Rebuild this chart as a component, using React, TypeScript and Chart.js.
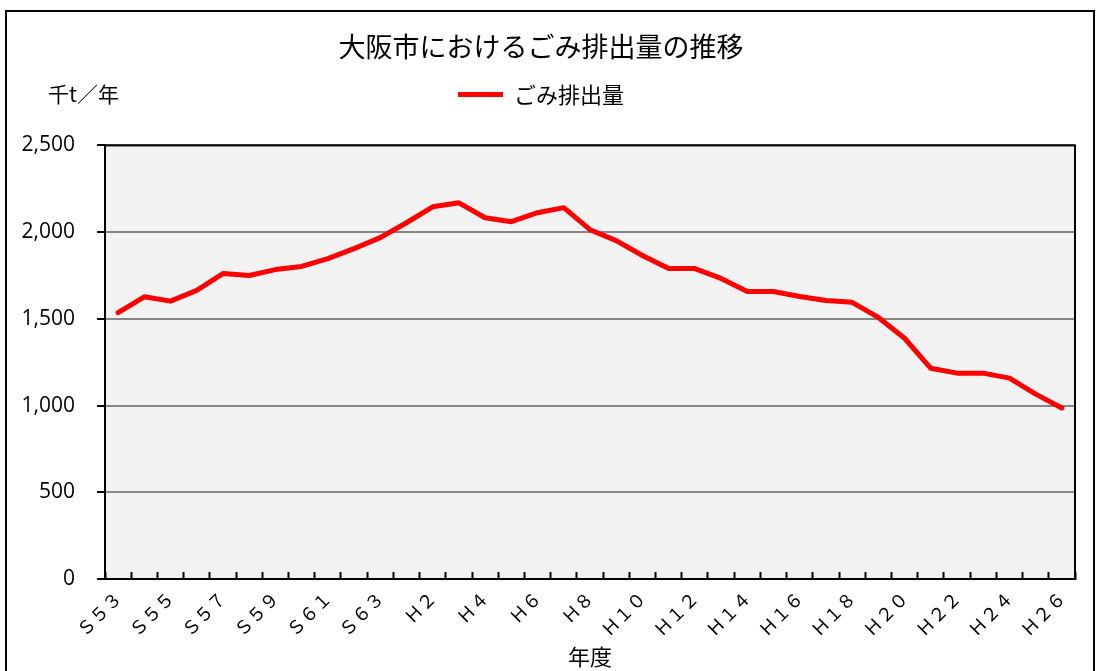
import React, { useEffect, useRef } from 'react';
import { Chart, registerables } from 'chart.js';

Chart.register(...registerables);

const years = [
  'Ｓ５３', 'Ｓ５４', 'Ｓ５５', 'Ｓ５６', 'Ｓ５７', 'Ｓ５８', 'Ｓ５９', 'Ｓ６０', 'Ｓ６１', 'Ｓ６２', 'Ｓ６３',
  'Ｈ１', 'Ｈ２', 'Ｈ３', 'Ｈ４', 'Ｈ５', 'Ｈ６', 'Ｈ７', 'Ｈ８', 'Ｈ９', 'Ｈ１０',
  'Ｈ１１', 'Ｈ１２', 'Ｈ１３', 'Ｈ１４', 'Ｈ１５', 'Ｈ１６', 'Ｈ１７', 'Ｈ１８', 'Ｈ１９', 'Ｈ２０',
  'Ｈ２１', 'Ｈ２２', 'Ｈ２３', 'Ｈ２４', 'Ｈ２５', 'Ｈ２６',
];

const wasteAmounts = [
  1536, 1627, 1602, 1664, 1761, 1750, 1784, 1802, 1847, 1905, 1968,
  2054, 2146, 2169, 2083, 2060, 2112, 2141, 2014, 1951, 1865,
  1790, 1790, 1733, 1658, 1658, 1629, 1606, 1595, 1508, 1388,
  1215, 1187, 1187, 1158, 1066, 986,
];

const yMin = 0;
const yMax = 2500;
const yStep = 500;

const chartTitle = '大阪市におけるごみ排出量の推移';
const seriesName = 'ごみ排出量';
const unitLabel = '千t／年';
const xAxisTitle = '年度';

const JP_FONT = '"Noto Sans CJK JP", "Noto Sans", sans-serif';

const plotFrame = {
  id: 'plotFrame',
  beforeDraw(chart: any) {
    const { ctx, chartArea } = chart;
    ctx.save();
    ctx.fillStyle = '#f2f2f2';
    ctx.fillRect(chartArea.left, chartArea.top, chartArea.right - chartArea.left, chartArea.bottom - chartArea.top);
    ctx.restore();
  },
  afterDraw(chart: any) {
    const { ctx, chartArea } = chart;
    ctx.save();
    ctx.strokeStyle = '#000';
    ctx.lineWidth = 2;
    ctx.strokeRect(chartArea.left, chartArea.top, chartArea.right - chartArea.left, chartArea.bottom - chartArea.top);
    // unit label, on the legend's line
    let y = 83;
    const boxes = chart.legend && chart.legend.legendHitBoxes;
    if (boxes && boxes.length) y = boxes[0].top + boxes[0].height / 2;
    ctx.fillStyle = '#000';
    ctx.font = `21px ${JP_FONT}`;
    ctx.textAlign = 'left';
    ctx.textBaseline = 'middle';
    ctx.fillText(unitLabel, chartArea.left - 57, y);
    ctx.restore();
  },
};

export default function App() {
  const canvasRef = useRef<HTMLCanvasElement | null>(null);

  useEffect(() => {
    if (!canvasRef.current) return;
    const chart = new Chart(canvasRef.current, {
      type: 'line',
      data: {
        labels: years,
        datasets: [
          {
            label: seriesName,
            data: wasteAmounts,
            borderColor: '#ff0000',
            backgroundColor: '#ff0000',
            borderWidth: 5,
            pointRadius: 0,
            tension: 0,
            borderJoinStyle: 'round',
            borderCapStyle: 'round',
          },
        ],
      },
      options: {
        animation: false,
        responsive: false,
        locale: 'en-US',
        layout: { padding: { left: 0, right: 18, top: 0, bottom: 0 } },
        plugins: {
          title: {
            display: true,
            text: chartTitle,
            color: '#000',
            font: { family: JP_FONT, size: 27, weight: 'normal' },
            padding: { top: 19, bottom: 10 },
          },
          subtitle: {
            // blank spacer between the legend and the plot area
            display: true,
            text: ' ',
            weight: 500,
            font: { size: 10 },
            padding: { top: 0, bottom: 18 },
          },
          legend: {
            display: true,
            position: 'top',
            labels: {
              color: '#000',
              font: { family: JP_FONT, size: 22 },
              usePointStyle: true,
              pointStyle: 'line',
              pointStyleWidth: 45,
              boxWidth: 45,
              padding: 10,
            },
          },
          tooltip: { enabled: false },
        },
        scales: {
          x: {
            type: 'category',
            offset: true,
            grid: {
              display: true,
              offset: true,
              drawOnChartArea: false,
              drawTicks: true,
              tickLength: -7,
              tickColor: '#000',
              tickWidth: 2,
            },
            border: { display: true, color: '#000', width: 2 },
            ticks: {
              autoSkip: false,
              minRotation: 45,
              maxRotation: 45,
              padding: 15,
              color: '#000',
              font: { family: JP_FONT, size: 18 },
              callback: (_v: any, i: number) => (i % 2 === 0 ? years[i] : ''),
            },
            title: {
              display: true,
              text: xAxisTitle,
              color: '#000',
              font: { family: JP_FONT, size: 22 },
              padding: { top: 0, bottom: 1 },
            },
            afterFit: (scale: any) => {
              scale.height = 92;
            },
          },
          y: {
            min: yMin,
            max: yMax,
            grid: {
              color: '#868686',
              lineWidth: 2,
              drawTicks: true,
              tickLength: 8,
              tickColor: '#000',
              tickWidth: 2,
            },
            border: { display: true, color: '#000', width: 2 },
            ticks: {
              stepSize: yStep,
              padding: 22,
              color: '#000',
              font: { family: '"Open Sans", sans-serif', size: 21 },
              callback: (v: any) => Number(v).toLocaleString('en-US'),
            },
            afterFit: (scale: any) => {
              scale.width = 98;
            },
          },
        },
      },
      plugins: [plotFrame],
    } as any);
    return () => chart.destroy();
  }, []);

  return (
    <div
      style={{
        position: 'fixed',
        left: 5,
        top: 10,
        width: 1090,
        height: 690,
        border: '2px solid #000',
        boxSizing: 'border-box',
        background: '#fff',
      }}
    >
      <canvas ref={canvasRef} width={1086} height={659} style={{ display: 'block' }} />
    </div>
  );
}
